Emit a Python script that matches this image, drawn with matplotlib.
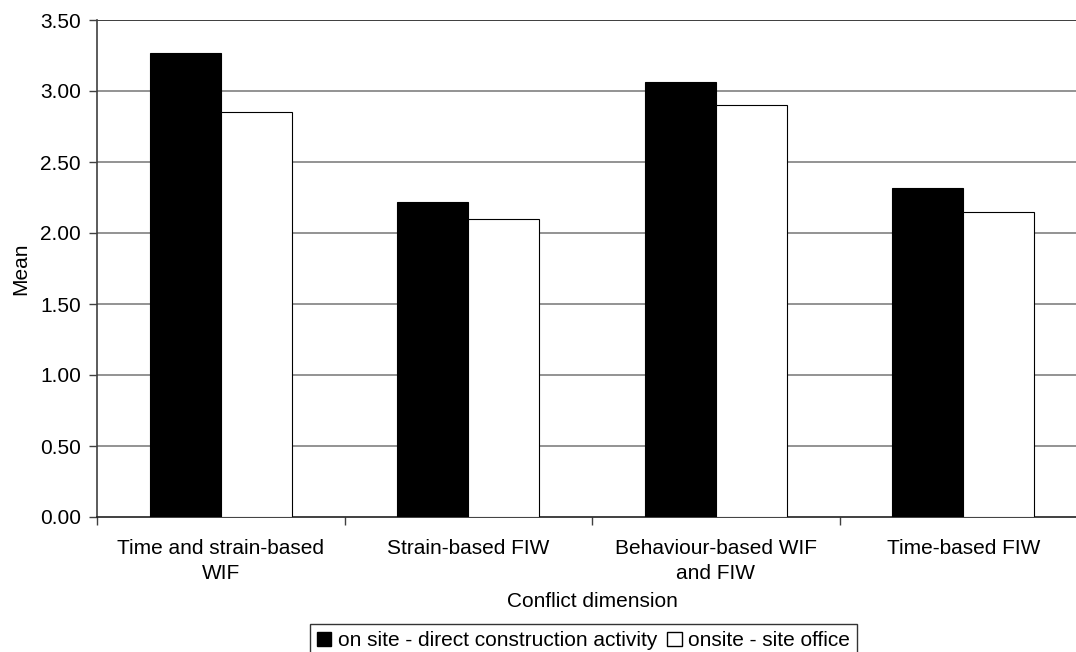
import numpy as np
import matplotlib
matplotlib.use("Agg")
import matplotlib.pyplot as plt
from matplotlib.patches import Patch

plt.rcParams["font.family"] = ["Liberation Sans", "DejaVu Sans"]

categories = ["Time and strain-based\nWIF", "Strain-based FIW",
              "Behaviour-based WIF\nand FIW", "Time-based FIW"]
direct_activity = [3.27, 2.22, 3.06, 2.32]
site_office = [2.85, 2.10, 2.90, 2.15]
series_names = ["on site - direct construction activity", "onsite - site office"]
y_ticks = [0.0, 0.5, 1.0, 1.5, 2.0, 2.5, 3.0, 3.5]

FS = 15

fig = plt.figure(figsize=(10.76, 6.52), dpi=100)
ax = fig.add_axes([97 / 1076, 1 - 517 / 652, 990 / 1076, 497 / 652])

x = np.arange(len(categories))
w = 0.287
ax.bar(x - w / 2, direct_activity, w, color="black", edgecolor="black", linewidth=0.8, zorder=3)
ax.bar(x + w / 2, site_office, w, color="white", edgecolor="black", linewidth=0.8, zorder=3)

ax.set_xlim(-0.5, len(categories) - 0.5)
ax.set_ylim(0, 3.5)
ax.set_yticks(y_ticks)
ax.set_yticklabels([f"{v:.2f}" for v in y_ticks], fontsize=FS)
for v in y_ticks[1:]:
    ax.axhline(v, color="#808080", linewidth=1.2, zorder=1)
ax.axhline(3.5, color="#404040", linewidth=1.4, zorder=2)

# category labels sit in the middle, ticks mark the boundaries
ax.set_xticks(np.arange(len(categories) + 1) - 0.5)
ax.set_xticklabels([])
ax.set_xticks(x, minor=True)
ax.set_xticklabels(categories, minor=True, fontsize=FS, linespacing=1.4)
ax.tick_params(axis="x", which="minor", length=0, pad=15.5)
ax.tick_params(axis="x", which="major", length=6, width=1, color="#404040")
ax.tick_params(axis="y", length=6, width=1, color="#404040", pad=5.5)

for side in ["top", "right"]:
    ax.spines[side].set_visible(False)
ax.spines["left"].set_color("#404040")
ax.spines["bottom"].set_color("#202020")
ax.spines["left"].set_linewidth(1.2)
ax.spines["bottom"].set_linewidth(1.2)

ax.set_ylabel("Mean", fontsize=FS)
ax.yaxis.set_label_coords(-0.0677, 0.5)
ax.set_xlabel("Conflict dimension", fontsize=FS)
ax.xaxis.set_label_coords(0.5, -0.151)

handles = [Patch(facecolor="black", edgecolor="black"),
           Patch(facecolor="white", edgecolor="black")]
leg = fig.legend(handles, series_names, loc="upper center",
                 bbox_to_anchor=(583.5 / 1076, 1 - 624 / 652),
                 ncol=2, fontsize=FS, frameon=True, fancybox=False, edgecolor="black",
                 handlelength=0.7, handleheight=0.7, handletextpad=0.3, columnspacing=0.5,
                 borderpad=0.35, borderaxespad=0)
leg.get_frame().set_linewidth(1.0)

fig.savefig("out.png", dpi=100)
